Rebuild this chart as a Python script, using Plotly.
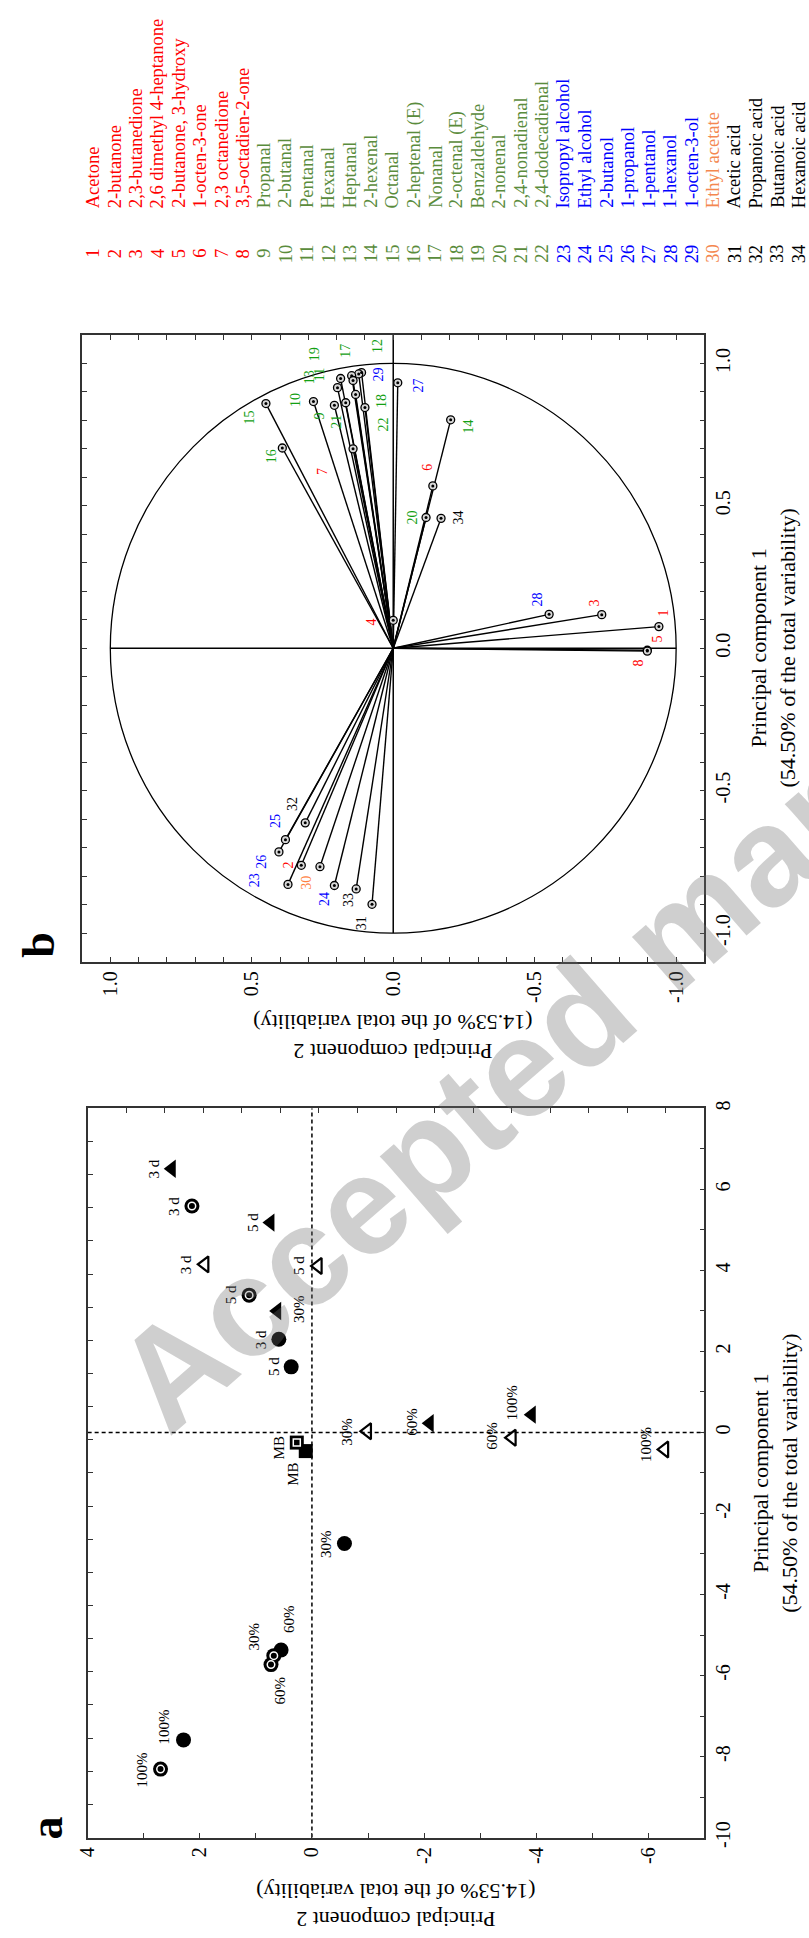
import plotly.graph_objects as go

W, H = 809, 1938
FONT = "Liberation Serif"


def px(x):
    return x / W


def py(y):
    return 1 - y / H


# ---------------- Panel a : sample scores ----------------
A_GROUP = ["ft", "cd", "ft", "ot", "ot", "cd", "ft", "fc", "fc", "ot", "os", "fs",
           "ft", "ot", "ft", "ot", "fc", "fc", "cd", "cd", "fc", "cd"]
A_PC2 = [2.50, 2.14, 0.74, 1.91, -0.11, 1.12, 0.62, 0.59, 0.37, -0.99, 0.27, 0.11,
         -2.10, -3.57, -3.92, -6.29, -0.58, 0.55, 0.68, 0.73, 2.29, 2.70]
A_PC1 = [6.51, 5.59, 5.18, 4.15, 4.11, 3.39, 3.00, 2.30, 1.62, 0.03, -0.25, -0.46,
         0.23, -0.13, 0.44, -0.42, -2.74, -5.37, -5.51, -5.73, -7.59, -8.31]
A_LABEL = ["3 d", "3 d", "5 d", "3 d", "5 d", "5 d", "30%", "3 d", "5 d", "30%", "MB", "MB",
           "60%", "60%", "100%", "100%", "30%", "60%", "30%", "60%", "100%", "100%"]
# label offsets from the marker, in screen pixels (dx right, dy down)
A_LABEL_OFFSET = [(-18, 0), (-18, 0), (-18, 0), (-18, 0), (-19, 0), (-18, 0), (22, -2),
                  (-18, 0), (-17, 0), (-20, 0), (-18, 5), (-13, 23), (-18, -1), (-20, -2),
                  (-20, -12), (-18, -5), (-18, 0), (8, -31), (-20, -19), (9, 26),
                  (-20, -13), (-18, 1)]

A_X_TICKVALS = [-7, -6, -5, -4, -3, -2, -1, 0, 1, 2, 3, 4]
A_X_TICKTEXT = ["", "-6", "", "-4", "", "-2", "", "0", "", "2", "", "4"]
A_Y_TICKVALS = [-10, -9, -8, -7, -6, -5, -4, -3, -2, -1, 0, 1, 2, 3, 4, 5, 6, 7, 8]
A_Y_TICKTEXT = ["-10", "", "-8", "", "-6", "", "-4", "", "-2", "", "0", "", "2", "", "4", "", "6", "", "8"]
A_X_RANGE = [4, -7]
A_Y_RANGE = [-10, 8]
A_TOP_TICKS = list(range(0, 17))
A_LEFT_TICKS = list(range(0, 23))

# ---------------- Panel b : loadings ----------------
B_NAMES = ["Acetone", "2-butanone", "2,3-butanedione", "2,6 dimethyl 4-heptanone",
           "2-butanone, 3-hydroxy", "1-octen-3-one", "2,3 octanedione", "3,5-octadien-2-one",
           "Propanal", "2-butanal", "Pentanal", "Hexanal", "Heptanal", "2-hexenal", "Octanal",
           "2-heptenal (E)", "Nonanal", "2-octenal (E)", "Benzaldehyde", "2-nonenal",
           "2,4-nonadienal", "2,4-dodecadienal", "Isopropyl alcohol", "Ethyl alcohol",
           "2-butanol", "1-propanol", "1-pentanol", "1-hexanol", "1-octen-3-ol",
           "Ethyl acetate", "Acetic acid", "Propanoic acid", "Butanoic acid", "Hexanoic acid"]
B_CLASS = ["k"] * 8 + ["a"] * 14 + ["o"] * 7 + ["e"] + ["c"] * 4
B_PC2 = [-0.939, 0.325, -0.737, 0.0, -0.898, -0.140, 0.142, -0.898, 0.168, 0.282,
         0.197, 0.112, 0.186, -0.203, 0.450, 0.392, 0.122, 0.133, 0.147, -0.116,
         0.208, 0.100, 0.372, 0.208, 0.381, 0.404, -0.016, -0.551, 0.142, 0.259,
         0.075, 0.311, 0.131, -0.169]
B_PC1 = [0.076, -0.762, 0.118, 0.098, -0.007, 0.570, 0.700, -0.010, 0.862, 0.866,
         0.915, 0.968, 0.947, 0.802, 0.859, 0.703, 0.963, 0.891, 0.957, 0.459,
         0.853, 0.845, -0.829, -0.833, -0.672, -0.715, 0.932, 0.119, 0.940, -0.767,
         -0.899, -0.613, -0.845, 0.456]
B_LABEL_OFFSET = [(5, -14), (-13, 0), (-7, -12), (-22, 2), (10, -11), (-5, -19), (-30, 23),
                  (-9, 12), (-26, 13), (-18, -2), (-18, -13), (16, -26), (-31, -1), (18, 7),
                  (-16, 14), (-11, 8), (-13, -23), (26, 7), (-37, -21), (-14, 0), (2, 16),
                  (19, 17), (-34, -4), (-10, 13), (-10, -19), (-17, 10), (21, 3), (-12, -15),
                  (25, -6), (-13, 16), (-11, 19), (-12, -19), (-7, 11), (17, -1)]
B_TICKVALS = [-1.0, -0.9, -0.8, -0.7, -0.6, -0.5, -0.4, -0.3, -0.2, -0.1, 0.0,
              0.1, 0.2, 0.3, 0.4, 0.5, 0.6, 0.7, 0.8, 0.9, 1.0]
B_TICKTEXT = ["-1.0", "", "", "", "", "-0.5", "", "", "", "", "0.0",
              "", "", "", "", "0.5", "", "", "", "", "1.0"]
B_RANGE = 1.1
B_RADIUS = 1.0

PLOT_COLORS = {"k": "#ff0000", "a": "#13a013", "o": "#0000ff", "e": "#ff7f3f", "c": "#000000"}
LIST_COLORS = {"k": "#ff0000", "a": "#5a8c3c", "o": "#0000ff", "e": "#f4874f", "c": "#000000"}

fig = go.Figure()

# ---- panel a markers ----
def sel(g):
    idx = [i for i, gg in enumerate(A_GROUP) if gg == g]
    return [A_PC2[i] for i in idx], [A_PC1[i] for i in idx]

ax_ = dict(xaxis="x", yaxis="y", hoverinfo="skip", showlegend=False, cliponaxis=False)
x, y = sel("fs")
fig.add_trace(go.Scatter(x=x, y=y, mode="markers", marker=dict(symbol="square", size=14, color="black"), **ax_))
x, y = sel("os")
fig.add_trace(go.Scatter(x=x, y=y, mode="markers", marker=dict(symbol="square", size=14, color="black"), **ax_))
fig.add_trace(go.Scatter(x=x, y=y, mode="markers",
                         marker=dict(symbol="square", size=7, color="black", line=dict(color="white", width=1.5)), **ax_))
x, y = sel("fc")
fig.add_trace(go.Scatter(x=x, y=y, mode="markers", marker=dict(symbol="circle", size=15, color="black"), **ax_))
x, y = sel("cd")
fig.add_trace(go.Scatter(x=x, y=y, mode="markers", marker=dict(symbol="circle", size=15, color="black"), **ax_))
fig.add_trace(go.Scatter(x=x, y=y, mode="markers",
                         marker=dict(symbol="circle", size=7.5, color="black", line=dict(color="white", width=1.5)), **ax_))
x, y = sel("ft")
fig.add_trace(go.Scatter(x=x, y=y, mode="markers", marker=dict(symbol="triangle-left", size=16, color="black"), **ax_))
x, y = sel("ot")
fig.add_trace(go.Scatter(x=x, y=y, mode="markers",
                         marker=dict(symbol="triangle-left-open", size=14, color="black", line=dict(width=2.2)), **ax_))

# invisible trace for the mirrored top/left tick axes
fig.add_trace(go.Scatter(x=[0], y=[0], xaxis="x3", yaxis="y3", mode="markers",
                         marker=dict(opacity=0), hoverinfo="skip", showlegend=False))

# ---- panel b vectors ----
vx, vy = [], []
for a, b in zip(B_PC2, B_PC1):
    vx += [0, a, None]
    vy += [0, b, None]
fig.add_trace(go.Scatter(x=vx, y=vy, mode="lines", line=dict(color="black", width=1.4),
                         xaxis="x2", yaxis="y2", hoverinfo="skip", showlegend=False))
fig.add_trace(go.Scatter(x=B_PC2, y=B_PC1, mode="markers",
                         marker=dict(symbol="circle", size=8, color="#d8d8d8", line=dict(color="black", width=1.3)),
                         xaxis="x2", yaxis="y2", hoverinfo="skip", showlegend=False))
fig.add_trace(go.Scatter(x=B_PC2, y=B_PC1, mode="markers",
                         marker=dict(symbol="circle", size=3, color="black"),
                         xaxis="x2", yaxis="y2", hoverinfo="skip", showlegend=False))

annotations = []
for i in range(len(A_LABEL)):
    dx, dy = A_LABEL_OFFSET[i]
    annotations.append(dict(x=A_PC2[i], y=A_PC1[i], xref="x", yref="y", text=A_LABEL[i],
                            showarrow=False, textangle=-90, xshift=dx, yshift=-dy,
                            font=dict(family=FONT, size=15, color="black")))
for i in range(len(B_PC2)):
    dx, dy = B_LABEL_OFFSET[i]
    annotations.append(dict(x=B_PC2[i], y=B_PC1[i], xref="x2", yref="y2", text=str(i + 1),
                            showarrow=False, textangle=-90, xshift=dx, yshift=-dy,
                            font=dict(family=FONT, size=14, color=PLOT_COLORS[B_CLASS[i]])))

# compound list
for i, name in enumerate(B_NAMES):
    xc = 83.3 + i * 21.67
    col = LIST_COLORS[B_CLASS[i]]
    annotations.append(dict(x=px(xc), y=py(248), xref="paper", yref="paper", text=str(i + 1),
                            showarrow=False, textangle=-90, xanchor="center", yanchor="middle",
                            font=dict(family=FONT, size=18.5, color=col)))
    annotations.append(dict(x=px(xc), y=py(204), xref="paper", yref="paper", text=name,
                            showarrow=False, textangle=-90, xanchor="center", yanchor="bottom",
                            font=dict(family=FONT, size=18.5, color=col)))

# axis titles and panel letters
t1 = "Principal component 1<br>(54.50% of the total variability)"
t2 = "Principal component 2<br>(14.53% of the total variability)"
for (tx, ty, txt, ang) in [(775, 1479, t1, -90), (390, 1915, t2, 180),
                           (773, 646, t1, -90), (387.5, 1038, t2, 180)]:
    annotations.append(dict(x=px(tx), y=py(ty), xref="paper", yref="paper", text=txt,
                            showarrow=False, textangle=ang, xanchor="center", yanchor="middle",
                            font=dict(family=FONT, size=22, color="black")))
for (tx, ty, txt) in [(36, 1837, "a"), (28, 946, "b")]:
    annotations.append(dict(x=px(tx), y=py(ty), xref="paper", yref="paper", text="<b>" + txt + "</b>",
                            showarrow=False, textangle=-90, xanchor="center", yanchor="middle",
                            font=dict(family=FONT, size=46, color="black")))

# watermark
annotations.append(dict(x=px(672), y=py(935), xref="paper", yref="paper", text="<b>Accepted manuscript</b>",
                        showarrow=False, textangle=-41, xanchor="center", yanchor="middle",
                        font=dict(family="Liberation Sans", size=140, color="rgba(110,110,110,0.33)")))

shapes = [
    dict(type="line", xref="x domain", yref="y", x0=0, x1=1, y0=0, y1=0,
         line=dict(color="black", width=1.5, dash="4px,3px"), layer="below"),
    dict(type="line", xref="x", yref="y domain", x0=0, x1=0, y0=0, y1=1,
         line=dict(color="black", width=1.5, dash="4px,3px"), layer="below"),
    dict(type="circle", xref="x2", yref="y2", x0=-B_RADIUS, x1=B_RADIUS, y0=-B_RADIUS, y1=B_RADIUS,
         line=dict(color="black", width=1.3), layer="below"),
    dict(type="line", xref="x2", yref="y2", x0=-B_RADIUS, x1=B_RADIUS, y0=0, y1=0,
         line=dict(color="black", width=1.5), layer="below"),
    dict(type="line", xref="x2", yref="y2", x0=0, x1=0, y0=-B_RADIUS, y1=B_RANGE,
         line=dict(color="black", width=1.5), layer="below"),
]

tickfont = dict(family=FONT, size=20, color="black")
common = dict(showgrid=False, zeroline=False, showline=True, linecolor="#333", linewidth=1.5,
              ticks="inside", ticklen=5, tickwidth=1, tickcolor="#333", tickangle=-90,
              tickfont=tickfont, tickmode="array")

fig.update_layout(
    width=W, height=H, margin=dict(l=0, r=0, t=0, b=0),
    paper_bgcolor="white", plot_bgcolor="white", showlegend=False,
    xaxis=dict(domain=[px(77.7), px(703)], range=A_X_RANGE, anchor="y", side="bottom",
               tickvals=A_X_TICKVALS, ticktext=A_X_TICKTEXT, mirror=True, **common),
    yaxis=dict(domain=[py(1846.7), py(1110.7)], range=A_Y_RANGE, anchor="x", side="right",
               tickvals=A_Y_TICKVALS, ticktext=A_Y_TICKTEXT, mirror=True, **common),
    xaxis3=dict(overlaying="x", anchor="y3", side="top", range=[0, 16], tickmode="array",
                tickvals=A_TOP_TICKS, showticklabels=False, ticks="inside", ticklen=5,
                tickcolor="#333", showline=False, showgrid=False, zeroline=False),
    yaxis3=dict(overlaying="y", anchor="x3", side="left", range=[0, 22], tickmode="array",
                tickvals=A_LEFT_TICKS, showticklabels=False, ticks="inside", ticklen=5,
                tickcolor="#333", showline=False, showgrid=False, zeroline=False),
    xaxis2=dict(domain=[px(72), px(703)], range=[B_RANGE, -B_RANGE], anchor="y2", side="bottom",
                tickvals=B_TICKVALS, ticktext=B_TICKTEXT, mirror="ticks", **common),
    yaxis2=dict(domain=[py(962.5), py(330)], range=[-B_RANGE, B_RANGE], anchor="x2", side="right",
                tickvals=B_TICKVALS, ticktext=B_TICKTEXT, mirror="ticks", **common),
    annotations=annotations, shapes=shapes,
)

fig.write_html("out.html", config=dict(displayModeBar=False),
               post_script="document.body.style.margin='0px';document.body.style.overflow='hidden';")
